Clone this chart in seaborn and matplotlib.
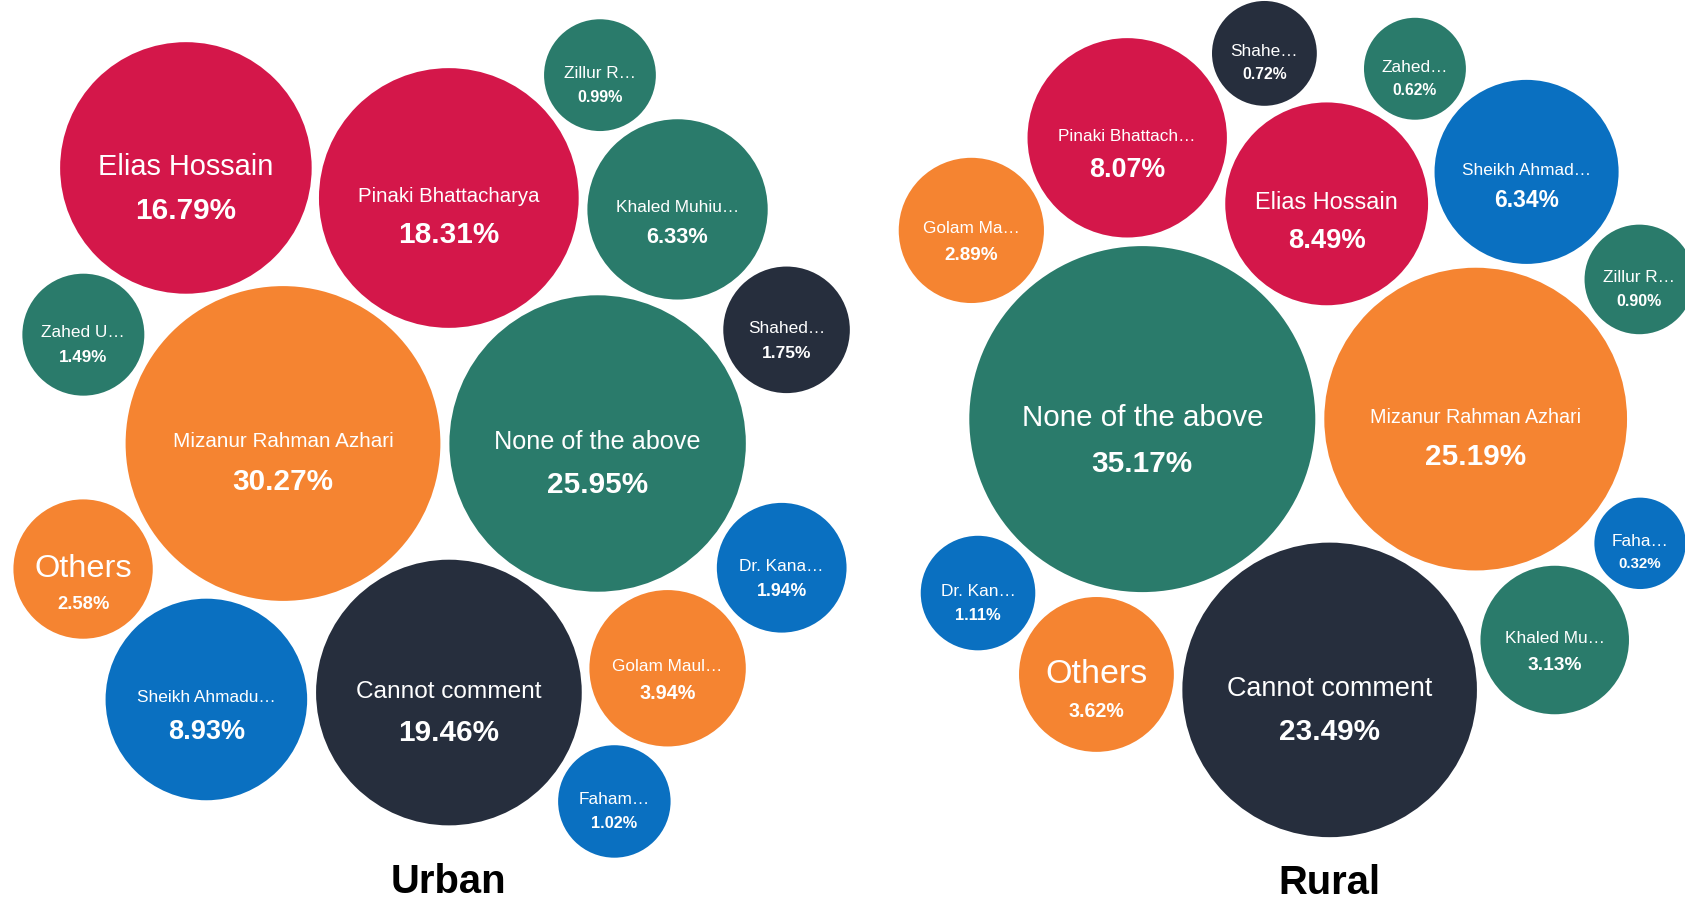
import numpy as np
import pandas as pd
import matplotlib
matplotlib.use("Agg")
import matplotlib.pyplot as plt
from matplotlib.font_manager import FontProperties
import seaborn as sns

# ---------------------------------------------------------------- data
panel_titles = ["Urban", "Rural"]

urban_keys = ["Mizanur", "None", "Pinaki", "Cannot", "Elias", "Sheikh", "Others",
              "Zahed", "Khaled", "Zillur", "Shahed", "Golam", "Kanak", "Faham"]
urban_labels = ["Mizanur Rahman Azhari", "None of the above", "Pinaki Bhattacharya",
                "Cannot comment", "Elias Hossain", "Sheikh Ahmadu…", "Others",
                "Zahed U…", "Khaled Muhiu…", "Zillur R…", "Shahed…", "Golam Maul…",
                "Dr. Kana…", "Faham…"]
urban_values = [30.27, 25.95, 18.31, 19.46, 16.79, 8.93, 2.58,
                1.49, 6.33, 0.99, 1.75, 3.94, 1.94, 1.02]

rural_keys = ["None", "Mizanur", "Cannot", "Elias", "Pinaki", "Sheikh", "Golam",
              "Shahed", "Zahed", "Zillur", "Khaled", "Faham", "Others", "Kanak"]
rural_labels = ["None of the above", "Mizanur Rahman Azhari", "Cannot comment",
                "Elias Hossain", "Pinaki Bhattach…", "Sheikh Ahmad…", "Golam Ma…",
                "Shahe…", "Zahed…", "Zillur R…", "Khaled Mu…", "Faha…", "Others",
                "Dr. Kan…"]
rural_values = [35.17, 25.19, 23.49, 8.49, 8.07, 6.34, 2.89,
                0.72, 0.62, 0.90, 3.13, 0.32, 3.62, 1.11]

# ---------------------------------------------------------------- styles
ORANGE, CRIMSON, TEAL, NAVY, BLUE = "#F58431", "#D4174A", "#2A7B6B", "#262E3D", "#0A70C1"
palette = {"Mizanur": ORANGE, "Others": ORANGE, "Golam": ORANGE,
           "Elias": CRIMSON, "Pinaki": CRIMSON,
           "None": TEAL, "Zahed": TEAL, "Khaled": TEAL, "Zillur": TEAL,
           "Cannot": NAVY, "Shahed": NAVY,
           "Sheikh": BLUE, "Kanak": BLUE, "Faham": BLUE}

W, H, DPI = 1685, 902, 100
PX2PT = 72.0 / DPI
GAP = 9.0                       # white gap between neighbouring bubbles (px)
FONT = ["Liberation Sans", "DejaVu Sans"]

# Packing recipe: each bubble is set tangent to two bubbles already placed
# (side = +1 / -1 picks which of the two tangent spots is used).
urban_pack = [("Mizanur", None, None, 0), ("None", "Mizanur", None, 0),
              ("Pinaki", "Mizanur", "None", -1), ("Cannot", "Mizanur", "None", 1),
              ("Elias", "Mizanur", "Pinaki", -1), ("Sheikh", "Mizanur", "Cannot", 1),
              ("Others", "Mizanur", "Sheikh", 1), ("Zahed", "Mizanur", "Elias", -1),
              ("Khaled", "Pinaki", "None", -1), ("Zillur", "Pinaki", "Khaled", -1),
              ("Shahed", "Khaled", "None", -1), ("Golam", "None", "Cannot", -1),
              ("Kanak", "None", "Golam", -1), ("Faham", "Cannot", "Golam", 1)]
rural_pack = [("None", None, None, 0), ("Mizanur", "None", None, 0),
              ("Cannot", "None", "Mizanur", 1), ("Elias", "None", "Mizanur", -1),
              ("Pinaki", "None", "Elias", -1), ("Sheikh", "Mizanur", "Elias", 1),
              ("Golam", "None", "Pinaki", -1), ("Shahed", "Pinaki", "Elias", -1),
              ("Zahed", "Elias", "Sheikh", -1), ("Zillur", "Mizanur", "Sheikh", 1),
              ("Khaled", "Mizanur", "Cannot", -1), ("Faham", "Mizanur", "Khaled", -1),
              ("Others", "None", "Cannot", 1), ("Kanak", "None", "Others", 1)]

panels = [
    dict(keys=urban_keys, labels=urban_labels, values=urban_values, pack=urban_pack,
         origin=(283.0, 443.5), radius_range=(55.9, 157.4), title_at=(448, 893)),
    dict(keys=rural_keys, labels=rural_labels, values=rural_values, pack=rural_pack,
         origin=(1142.3, 419.1), radius_range=(45.7, 173.0), title_at=(1329, 894)),
]


def radii_for(values, rng):
    """Radius grows linearly with sqrt(value) between the panel's min and max."""
    s = np.sqrt(np.asarray(values, float))
    t = (s - s.min()) / (s.max() - s.min())
    return rng[0] + t * (rng[1] - rng[0])


def tangent_spot(pa, ra, pb, rb, r, side):
    da, db = ra + r + GAP, rb + r + GAP
    v = pb - pa
    d = np.hypot(*v)
    cos_a = np.clip((da ** 2 + d ** 2 - db ** 2) / (2 * da * d), -1, 1)
    theta = np.arctan2(v[1], v[0]) + side * np.arccos(cos_a)
    return pa + da * np.array([np.cos(theta), np.sin(theta)])


rows = []
for p_idx, p in enumerate(panels):
    rad = dict(zip(p["keys"], radii_for(p["values"], p["radius_range"])))
    pos = {}
    for key, a, b, side in p["pack"]:
        if a is None:
            pos[key] = np.array(p["origin"])
        elif b is None:
            pos[key] = pos[a] + np.array([rad[a] + rad[key] + GAP, 0.0])
        else:
            pos[key] = tangent_spot(pos[a], rad[a], pos[b], rad[b], rad[key], side)
    for key, label, val in zip(p["keys"], p["labels"], p["values"]):
        rows.append(dict(panel=p_idx, key=key, label=label, value=val,
                         x=pos[key][0], y=pos[key][1], r=rad[key]))

df = pd.DataFrame(rows)
# marker area in pt^2 so that the marker diameter equals 2r pixels
df["area"] = (2 * df["r"] * PX2PT) ** 2

# ---------------------------------------------------------------- figure
sns.set_style("white")
plt.rcParams["font.family"] = FONT

fig = plt.figure(figsize=(W / DPI, H / DPI), dpi=DPI)
ax = fig.add_axes([0, 0, 1, 1])
amin, amax = df["area"].min(), df["area"].max()
sns.scatterplot(data=df, x="x", y="y", hue="key", palette=palette,
                size="area", sizes=(amin, amax), size_norm=(amin, amax),
                linewidth=0, legend=False, ax=ax)
ax.set_xlim(0, W)
ax.set_ylim(H, 0)
ax.axis("off")

renderer = fig.canvas.get_renderer()
ref_prop = FontProperties(family=FONT, size=10)
ref_px = 10 / PX2PT

NAME_MIN, NAME_MAX = 17.2, 34.0


def pct_size(r):
    return float(np.interp(r, [45, 55, 90, 100, 112], [15.0, 16.0, 21.7, 27.0, 29.8]))


for _, row in df.iterrows():
    if row["label"].endswith("…"):
        f_name = NAME_MIN
    else:
        w10, _, _ = renderer.get_text_width_height_descent(row["label"], ref_prop, ismath=False)
        f_name = np.clip(0.7 * 2 * row["r"] / (w10 / ref_px), NAME_MIN, NAME_MAX)
    f_pct = pct_size(row["r"])
    name_base = row["y"] - 3.4 + 0.358 * f_name
    pct_base = name_base + 0.312 * f_name + 1.005 * f_pct + 0.04 * row["r"]
    ax.text(row["x"], name_base, row["label"], color="white", ha="center",
            va="baseline", fontsize=f_name * PX2PT)
    ax.text(row["x"], pct_base, f"{row['value']:.2f}%", color="white", ha="center",
            va="baseline", fontsize=f_pct * PX2PT, fontweight="bold")

for title, p in zip(panel_titles, panels):
    tx, ty = p["title_at"]
    ax.text(tx, ty, title, ha="center", va="baseline", fontsize=40 * PX2PT,
            fontweight="bold", color="black")

fig.savefig("out.png", dpi=DPI, facecolor="white")
